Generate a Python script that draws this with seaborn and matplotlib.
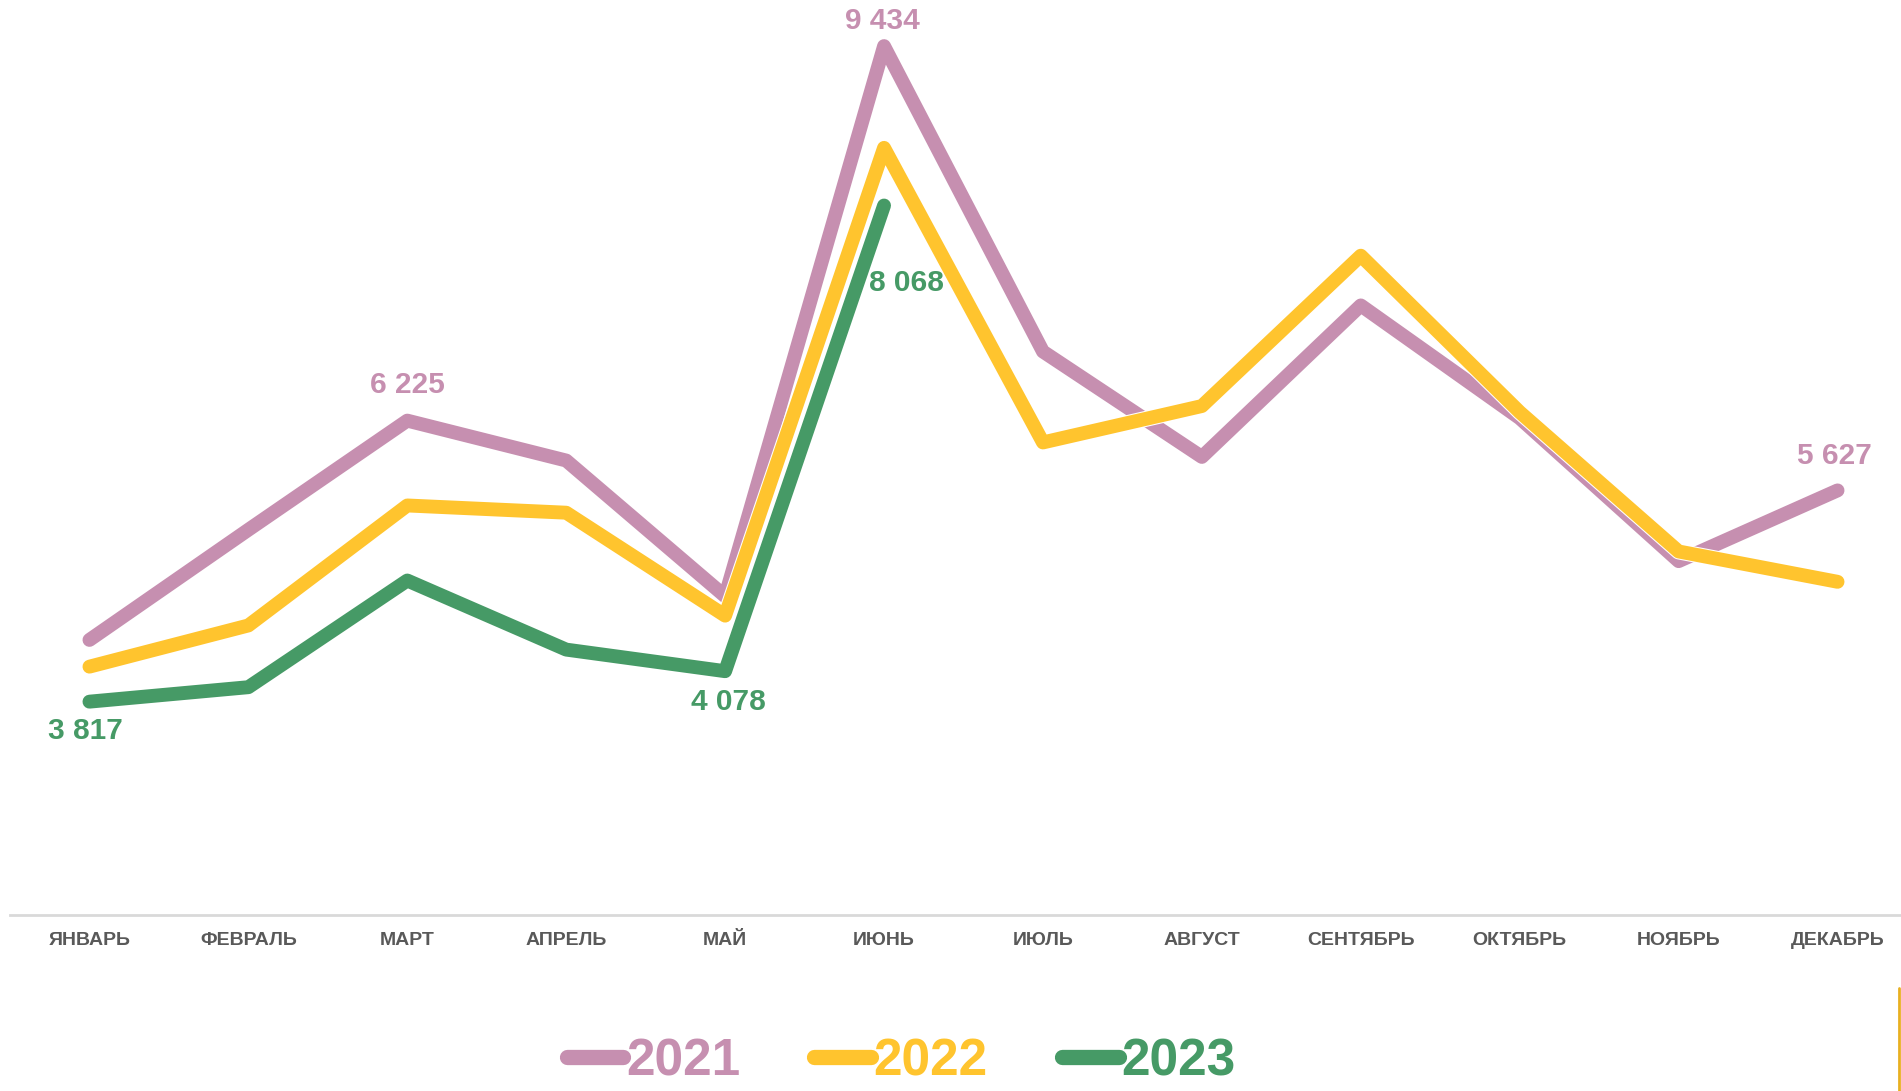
import numpy as np
import pandas as pd
import matplotlib.pyplot as plt
import seaborn as sns
from matplotlib.lines import Line2D
import matplotlib.patheffects as pe

### Данные
months = ["ЯНВАРЬ", "ФЕВРАЛЬ", "МАРТ", "АПРЕЛЬ", "МАЙ", "ИЮНЬ",
          "ИЮЛЬ", "АВГУСТ", "СЕНТЯБРЬ", "ОКТЯБРЬ", "НОЯБРЬ", "ДЕКАБРЬ"]
v2021 = [4346, 5290, 6225, 5883, 4720, 9434, 6817, 5914, 7212, 6246, 5021, 5627]
v2022 = [4117, 4470, 5498, 5436, 4554, 8562, 6038, 6350, 7638, 6298, 5104, 4844]
v2023 = [3817, 3941, 4855, 4263, 4078, 8068]
years = ["2021", "2022", "2023"]
colors = {"2021": "#C68FB0", "2022": "#FFC42E", "2023": "#469A66"}

### Таблица
rows = []
for y, vals in zip(years, [v2021, v2022, v2023]):
    for i, v in enumerate(vals):
        rows.append({"month": i, "year": y, "value": v})
dados = pd.DataFrame(rows)

sns.set_style("white")
plt.rcParams["font.family"] = ["Liberation Sans", "DejaVu Sans"]

fig = plt.figure(figsize=(19.01, 10.91), dpi=100)
ax = fig.add_axes([10 / 1901, 1 - 915 / 1091, 1907 / 1901, 915 / 1091])

sns.lineplot(data=dados, x="month", y="value", hue="year", palette=colors,
             linewidth=10, sort=False, legend=False, ax=ax,
             solid_capstyle="round", solid_joinstyle="round")
for ln in ax.lines:
    ln.set_path_effects([pe.Stroke(linewidth=11.5, foreground="white"), pe.Normal()])

ax.set_xlim(-0.5, 11.5)
ax.set_ylim(1989, 9829)
ax.set_xticks(range(12))
ax.set_xticklabels(months, fontsize=14, fontweight="bold", color="#595959")
ax.set_xticks(np.arange(-0.5, 12, 1), minor=True)
ax.tick_params(axis="x", which="major", length=0, pad=12)
ax.tick_params(axis="x", which="minor", length=5, width=1.5, color="#d9d9d9")
ax.set_yticks([])
ax.set_xlabel("")
ax.set_ylabel("")
for s in ["top", "left", "right"]:
    ax.spines[s].set_visible(False)
ax.spines["bottom"].set_color("#d9d9d9")
ax.spines["bottom"].set_linewidth(2)

### Подписи значений
labels = [
    (2, v2021[2], "2021", (0, 26)),
    (5, v2021[5], "2021", (-1, 18)),
    (11, v2021[11], "2021", (-2, 25)),
    (0, v2023[0], "2023", (-3, -21)),
    (4, v2023[4], "2023", (2, -22)),
    (5, v2023[5], "2023", (16, -56)),
]
for x, v, y, off in labels:
    ax.annotate(f"{v:,}".replace(",", " "), (x, v), xytext=off, textcoords="offset points",
                ha="center", va="center", fontsize=21.5, fontweight="bold", color=colors[y])

### Легенда
handles = [Line2D([], [], color=colors[y], linewidth=11, solid_capstyle="round") for y in years]
leg = fig.legend(handles, years, loc="center", bbox_to_anchor=(0.474, 0.027), ncol=3,
                 frameon=False, handlelength=1.1, handletextpad=0.05,
                 columnspacing=1.45, borderpad=0.1, prop={"weight": "bold", "size": 37})
for t, y in zip(leg.get_texts(), years):
    t.set_color(colors[y])

fig.add_artist(Line2D([1899 / 1901, 1899 / 1901], [0, 1 - 988 / 1091],
                      transform=fig.transFigure, color="#E8B020", linewidth=2))

fig.savefig("out.png", dpi=100)
